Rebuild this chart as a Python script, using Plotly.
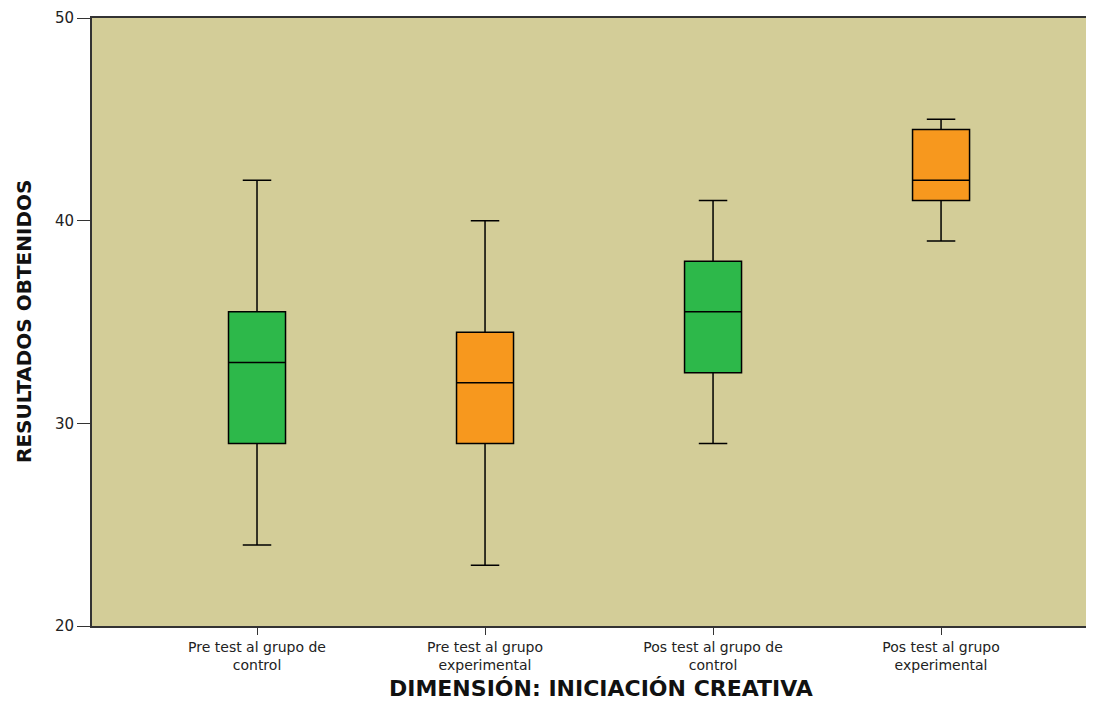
import plotly.graph_objects as go

# groups shown on the x axis
groups = [
    "Pre test al grupo de<br>control",
    "Pre test al grupo<br>experimental",
    "Pos test al grupo de<br>control",
    "Pos test al grupo<br>experimental",
]
# five-number summaries
lower = [24, 23, 29, 39]
q1 = [29, 29, 32.5, 41]
median = [33, 32, 35.5, 42]
q3 = [35.5, 34.5, 38, 44.5]
upper = [42, 40, 41, 45]
colors = ["#2DB84A", "#F7981E", "#2DB84A", "#F7981E"]

x_title = "DIMENSIÓN: INICIACIÓN CREATIVA"
y_title = "RESULTADOS OBTENIDOS"

fig = go.Figure()
for i, g in enumerate(groups):
    fig.add_trace(go.Box(
        x=[g], q1=[q1[i]], median=[median[i]], q3=[q3[i]],
        lowerfence=[lower[i]], upperfence=[upper[i]],
        fillcolor=colors[i],
        line=dict(color="black", width=1.5),
        width=0.25, whiskerwidth=0.5,
        boxpoints=False, showlegend=False, hoverinfo="skip",
    ))

# page body has an 8px margin, so the figure is a bit smaller than the window
fig.update_layout(
    width=1086, height=696,
    margin=dict(l=84, r=2, t=10, b=78),
    paper_bgcolor="white",
    plot_bgcolor="#D3CD98",
    font=dict(family="DejaVu Sans, Arial, sans-serif", size=15, color="#222"),
)
fig.update_xaxes(
    type="category", categoryorder="array", categoryarray=groups,
    range=[-0.7237, 3.662],
    showgrid=False, showline=True, linecolor="#333", linewidth=2,
    ticks="outside", ticklen=7, tickcolor="#333",
    tickfont=dict(size=14),
    mirror=True,
)
fig.update_yaxes(
    range=[20, 50], tickvals=[20, 30, 40, 50],
    showgrid=False, zeroline=False, showline=True, linecolor="#333", linewidth=2,
    ticks="outside", ticklen=13, tickcolor="#333",
    tickfont=dict(size=15),
)

# axis titles placed as annotations so their position can be matched
fig.add_annotation(
    text=f"<b>{x_title}</b>", xref="paper", yref="paper",
    x=0.5085, y=-0.126, xanchor="center", yanchor="bottom",
    showarrow=False, font=dict(size=22, color="#111"),
)
fig.add_annotation(
    text=f"<b>{y_title}</b>", xref="paper", yref="paper",
    x=-0.068, y=0.5, xanchor="center", yanchor="middle", textangle=-90,
    showarrow=False, font=dict(size=20, color="#111"),
)

fig.write_html("out.html")
